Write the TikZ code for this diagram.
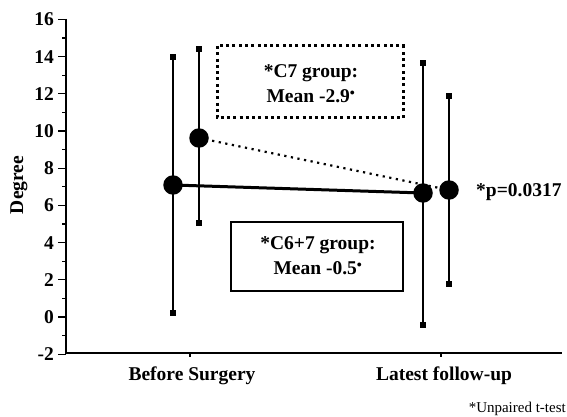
\documentclass[tikz,border=0pt]{standalone}
\usepackage{fontspec}
\setmainfont{Liberation Serif}
\begin{document}
\begin{tikzpicture}[x=1pt,y=-1pt,
  lab/.style={font=\fontsize{19.5}{25}\selectfont\bfseries, inner sep=0pt},
  note/.style={font=\fontsize{15}{17}\selectfont, inner sep=0pt},
  mean/.style={circle, fill=black, minimum size=19.5pt, inner sep=0pt},
  errcap/.style={rectangle, fill=black, minimum size=6.5pt, inner sep=0pt},
  bar/.style={line width=1.4pt},
  axis/.style={line width=1.5pt},
]
\useasboundingbox (0,0) rectangle (567,417);
% axes
\coordinate (yt) at (66,19);
\coordinate (o) at (66,353);
\coordinate (xe) at (562,353);
\draw[axis] (yt) -- (o) -- (xe);
\foreach \v in {-2,0,...,16} {
  \draw[line width=1.3pt] (66,{317-18.6*\v}) -- (58,{317-18.6*\v});
  \node[lab, anchor=east] at (54,{317-18.6*\v}) {\v};
}
\foreach \v in {-1,1,...,15} {
  \draw[line width=1.1pt] (66,{317-18.6*\v}) -- (61.5,{317-18.6*\v});
}
\draw[line width=1.1pt] (190,353) -- (190,357);
\draw[line width=1.1pt] (441,353) -- (441,357);
\node[lab] (bs) at (192,376) {Before Surgery};
\node[lab] (lf) at (444,376) {Latest follow-up};
\node[lab, rotate=90] (deg) at (19,185) {Degree};
\node[note, anchor=east] (ut) at (566,409) {*Unpaired t-test};
% caps
\node[errcap] (bCt) at (173,57) {};
\node[errcap] (bCb) at (173,313) {};
\node[errcap] (b7t) at (199,49) {};
\node[errcap] (b7b) at (199,223) {};
\node[errcap] (lCt) at (423,63) {};
\node[errcap] (lCb) at (423,325) {};
\node[errcap] (l7t) at (449,96) {};
\node[errcap] (l7b) at (449,284) {};
% means
\coordinate (bC) at (173,185);
\coordinate (b7) at (199,138);
\coordinate (lC) at (423,193);
\coordinate (l7) at (449,190);
\draw[bar] (bCt.center) -- (bCb.center);
\draw[bar] (b7t.center) -- (b7b.center);
\draw[bar] (lCt.center) -- (lCb.center);
\draw[bar] (l7t.center) -- (l7b.center);
\draw[line width=2.2pt, dash pattern=on 2.2pt off 4.5pt] (b7) -- (l7);
\draw[line width=3pt] (bC) -- (lC);
\node[mean] (mbC) at (bC) {};
\node[mean] (mb7) at (b7) {};
\node[mean] (mlC) at (lC) {};
\node[mean] (ml7) at (l7) {};
% boxes
\draw[line width=3pt, dash pattern=on 3pt off 3.3pt] (217,46) rectangle (403,118);
\node[lab, align=center] (c7) at (311,84) {*C7 group:\\Mean -2.9$^{\scriptscriptstyle\bullet}$};
\draw[line width=2.2pt] (231,222) rectangle (403,291);
\node[lab, align=center] (c67) at (318,256) {*C6+7 group:\\Mean -0.5$^{\scriptscriptstyle\bullet}$};
\node[lab, anchor=west] (p) at (476,192) {*p=0.0317};
\end{tikzpicture}
\end{document}
